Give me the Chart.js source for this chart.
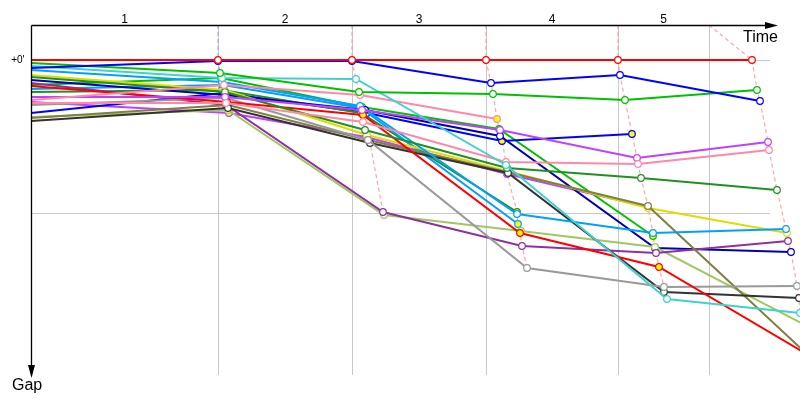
<!DOCTYPE html>
<html>
<head>
<meta charset="utf-8">
<script src="https://cdn.jsdelivr.net/npm/chart.js@4.4.0/dist/chart.umd.min.js"></script>
<style>
  html,body{margin:0;background:#fff}
  #wrap{width:800px;height:400px}
</style>
</head>
<body>
<div id="wrap"><canvas id="c"></canvas></div>
<script>
// ===================== DATA =====================
// each car: [time (s), gap to leader (s)] at lap 0..5
const carRed      = [[0,0],[374,0],[642,0],[910,0],[1174,0],[1442,0]];
const carBlue     = [[0,3.2],[374,0.4],[642,0.4],[920,9.2],[1178,6],[1458,16.4]];
const carGreen    = [[0,1.2],[378,5.2],[656,12.8],[924,13.6],[1188,16],[1452,12]];
const carCyan     = [[0,2.4],[382,7.2],[650,7.6],[950,42],[1272,95.6],[1538,101.2]];
const carPink     = [[0,16],[386,10],[658,14],[932,23.6]];
const carPink2    = [[0,17.2],[390,17.2],[664,24.8],[950,40.8],[1214,41.6],[1476,36]];
const carMagenta  = [[0,14.8],[388,14.8],[662,20],[938,28],[1212,39.2],[1474,32.8]];
const carDkGreen  = [[0,6.8],[388,12.8],[668,28],[952,43.2],[1220,47.2],[1492,52]];
const carSky      = [[0,4],[382,8.8],[658,18.4],[972,61.6],[1244,69.2],[1510,67.6]];
const carRed2     = [[0,10.4],[392,16.8],[664,22],[978,69.2],[1256,82.8],[1568,119.6]];
const carGray     = [[0,18],[390,15.2],[674,32],[992,83.2],[1266,90.8],[1532,90.4]];
const carBlack    = [[0,24.4],[394,19.2],[678,33.2],[954,45.2],[1266,92.8],[1536,95.2]];
const carOlive    = [[0,23.2],[394,18],[674,32],[952,44.8],[1234,58.4],[1558,118.8]];
const carPurple   = [[0,9.2],[390,18],[704,60.8],[982,74.4],[1250,77.2],[1514,72.4]];
const carLime     = [[0,22.8],[394,20],[706,62],[980,68.4],[1248,74.8],[1548,106]];
const carYellow   = [[0,6],[388,12],[672,30],[952,44.4],[1234,59.2],[1512,69.2]];
const carNavy     = [[0,8],[388,14],[668,20],[938,30.4],[1248,75.2],[1520,76.8]];
const carSky2     = [[0,11.6],[384,10],[660,19.2],[974,65.6]];
const carDkGreen2 = [[0,12.8],[382,12],[660,21.2],[972,60.8]];
const carBlue2    = [[0,21.2],[386,13.2],[672,21.2],[942,32.4],[1202,29.6]];
const carMagenta2 = [[0,16.8],[396,21.2],[670,30.8],[952,45.6],[1234,58.8]];
const carGreen2   = [[0,10],[380,7.2],[662,18.8],[936,27.6],[1244,70.4]];

// lap index where the car pitted (yellow marker)
const pitsPink=[3], pitsRed2=[1,2,3,4], pitsYellow=[1], pitsSky2=[2,3], pitsDkGreen2=[2,3],
      pitsBlue2=[1,3,4], pitsMagenta2=[1,2,4], pitsGreen2=[1,2,3,4];

const lapBounds  = [0,374,642,910,1174,1356];   // time of lap lines
const lapLabels  = ['1','2','3','4','5'];
const lapLineTop = [374,642,910,1174,1356];     // where crossing line meets the time axis
const gapLines   = [0,61];
const gapLabels  = ["+0'",''];

// ===================== CHART =====================
const cars=[
  {d:carRed,c:'#ff0000'},{d:carBlue,c:'#0000ff'},{d:carGreen,c:'#00c000'},{d:carCyan,c:'#40d0d0'},
  {d:carPink,c:'#ff88aa',p:pitsPink},{d:carPink2,c:'#ff88aa'},{d:carMagenta,c:'#c040ff'},
  {d:carDkGreen,c:'#209020'},{d:carSky,c:'#00a0ff'},{d:carRed2,c:'#ff0000',p:pitsRed2},
  {d:carGray,c:'#999999'},{d:carBlack,c:'#333333'},{d:carOlive,c:'#808040'},{d:carPurple,c:'#9030a0'},
  {d:carLime,c:'#a0c860'},{d:carYellow,c:'#dddd00',p:pitsYellow},{d:carNavy,c:'#0000b0'},
  {d:carSky2,c:'#00a0ff',p:pitsSky2},{d:carDkGreen2,c:'#209020',p:pitsDkGreen2},
  {d:carBlue2,c:'#0000ff',p:pitsBlue2},{d:carMagenta2,c:'#c040ff',p:pitsMagenta2},
  {d:carGreen2,c:'#00c000',p:pitsGreen2}
];
const AX_TOP=-14; // gap value of the time axis line

const datasets=cars.map((car,k)=>({
  data:car.d.map(p=>({x:p[0],y:p[1]})),
  borderColor:car.c,borderWidth:2,tension:0,order:k,
  pointRadius:car.d.map((p,i)=>i===0?0:3.3),
  pointBorderColor:car.c,pointBorderWidth:1.2,
  pointBackgroundColor:car.d.map((p,i)=>(car.p||[]).includes(i)?'#ffff00':'#ffffff')
}));

// dashed line joining every car at the same lap
lapLineTop.forEach((t,k)=>{
  const lap=k+1;
  const pts=cars.filter(c=>c.d.length>lap).map(c=>({x:c.d[lap][0],y:c.d[lap][1]})).sort((a,b)=>a.y-b.y);
  pts.unshift({x:t,y:AX_TOP});
  datasets.push({data:pts,borderColor:lap===1?'rgba(150,150,255,.8)':'rgba(255,150,150,.85)',
    borderWidth:1.2,borderDash:[4,3],pointRadius:0,tension:0,order:100});
});

const frame={
  id:'frame',
  beforeDatasetsDraw(ch){
    const {ctx,scales:{x,y}}=ch;
    ctx.save();ctx.strokeStyle='#c8c8c8';ctx.lineWidth=1;
    lapBounds.slice(1).forEach(t=>{
      const px=Math.round(x.getPixelForValue(t))+.5;
      ctx.beginPath();ctx.moveTo(px,y.getPixelForValue(AX_TOP));ctx.lineTo(px,y.getPixelForValue(126));ctx.stroke();
    });
    gapLines.forEach(g=>{
      const py=Math.round(y.getPixelForValue(g))+.5;
      ctx.beginPath();ctx.moveTo(x.getPixelForValue(0),py);ctx.lineTo(x.getPixelForValue(1478),py);ctx.stroke();
    });
    ctx.restore();
  },
  afterDatasetsDraw(ch){
    const {ctx,scales:{x,y}}=ch;
    const x0=Math.round(x.getPixelForValue(0))+.5, y0=Math.round(y.getPixelForValue(AX_TOP))+.5;
    const xEnd=x.getPixelForValue(1494), yEnd=y.getPixelForValue(127.2);
    ctx.save();
    ctx.strokeStyle='#000';ctx.fillStyle='#000';ctx.lineWidth=1.3;
    ctx.beginPath();ctx.moveTo(x0,y0);ctx.lineTo(xEnd-10,y0);ctx.stroke();
    ctx.beginPath();ctx.moveTo(x0,y0);ctx.lineTo(x0,yEnd-10);ctx.stroke();
    ctx.beginPath();ctx.moveTo(xEnd,y0);ctx.lineTo(xEnd-13,y0-3.5);ctx.lineTo(xEnd-13,y0+3.5);ctx.closePath();ctx.fill();
    ctx.beginPath();ctx.moveTo(x0,yEnd);ctx.lineTo(x0-3.5,yEnd-13);ctx.lineTo(x0+3.5,yEnd-13);ctx.closePath();ctx.fill();
    // lap numbers
    ctx.font='12px "Liberation Sans", Arial, sans-serif';ctx.textAlign='center';ctx.textBaseline='alphabetic';
    lapLabels.forEach((l,i)=>{
      ctx.fillText(l,(x.getPixelForValue(lapBounds[i])+x.getPixelForValue(lapBounds[i+1]))/2,y0-3);
    });
    // gap labels
    ctx.font='10px "Liberation Sans", Arial, sans-serif';ctx.textAlign='right';ctx.textBaseline='middle';
    gapLines.forEach((g,i)=>{ if(gapLabels[i]) ctx.fillText(gapLabels[i],x0-7,y.getPixelForValue(g)); });
    // axis titles
    ctx.font='16px "Liberation Sans", Arial, sans-serif';
    ctx.textAlign='right';ctx.textBaseline='alphabetic';ctx.fillText('Time',xEnd,y0+16);
    ctx.textAlign='left';ctx.fillText('Gap',12,yEnd+12);
    ctx.restore();
  }
};

new Chart(document.getElementById('c'),{
  type:'line',
  data:{datasets},
  options:{
    responsive:true,maintainAspectRatio:false,animation:false,
    layout:{padding:0,autoPadding:false},
    plugins:{legend:{display:false},tooltip:{enabled:false}},
    scales:{
      x:{type:'linear',min:-62,max:1538,display:false},
      y:{type:'linear',min:-24,max:136,reverse:true,display:false}
    }
  },
  plugins:[frame]
});
</script>
</body>
</html>
